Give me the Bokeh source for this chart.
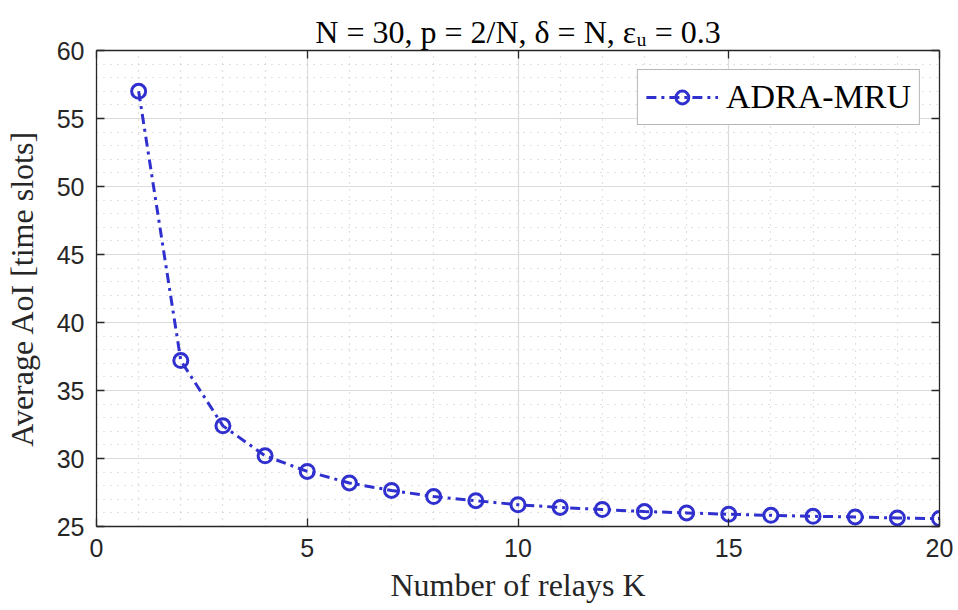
from bokeh.plotting import figure
from bokeh.models import Range1d, LinearAxis, SingleIntervalTicker, CustomJSTickFormatter
from bokeh.embed import file_html
from bokeh.resources import INLINE

# ---------------- data ----------------
relays_K = list(range(1, 21))
avg_aoi = [57.0, 37.2, 32.4, 30.2, 29.05, 28.2, 27.65, 27.2, 26.9, 26.6,
           26.4, 26.25, 26.1, 26.0, 25.9, 25.82, 25.75, 25.7, 25.63, 25.58]
series_label = "ADRA-MRU"
x_tick_interval = 5
y_tick_interval = 5
x_limits = (0, 20)
y_limits = (25, 60)
y_axis_title = "Average AoI [time slots]"
x_axis_title = "Number of relays K"
chart_title = "N = 30, p = 2/N, δ = N, εᵤ = 0.3"

# ---------------- style ----------------
W, H = 958, 610
FL, FR, FT, FB = 96, 939, 50, 526   # frame edges in canvas px
BLUE = "#3030cf"
AX = "#262626"
SERIF = "Liberation Serif"
SANS = "Liberation Sans"

p = figure(width=W, height=H, x_range=Range1d(*x_limits), y_range=Range1d(*y_limits),
           output_backend="svg", toolbar_location=None,
           min_border_left=FL, min_border_right=W - FR,
           min_border_top=FT, min_border_bottom=H - FB)
p.outline_line_color = None
p.background_fill_color = "white"
p.border_fill_color = "white"

p.title.text = chart_title
p.title.align = "center"
p.title.text_font = SERIF
p.title.text_font_style = "normal"
p.title.text_font_size = "32px"
p.title.text_color = "black"
p.title.standoff = 2

xt = SingleIntervalTicker(interval=x_tick_interval, num_minor_ticks=5)
yt = SingleIntervalTicker(interval=y_tick_interval, num_minor_ticks=5)

for ax, tk in ((p.below[0], xt), (p.left[0], yt)):
    ax.ticker = tk
    ax.axis_line_color = AX
    ax.axis_line_width = 1.3
    ax.major_tick_in = 8
    ax.major_tick_out = 0
    ax.major_tick_line_color = AX
    ax.major_tick_line_width = 1.3
    ax.minor_tick_in = 0
    ax.minor_tick_out = 0
    ax.major_label_text_font = SANS
    ax.major_label_text_font_size = "25px"
    ax.major_label_text_color = AX
    ax.axis_label_text_font = SERIF
    ax.axis_label_text_font_style = "normal"
    ax.axis_label_text_font_size = "32px"
    ax.axis_label_text_color = AX

p.below[0].major_label_standoff = 12
p.below[0].axis_label = x_axis_title
p.below[0].axis_label_standoff = 7
p.left[0].major_label_standoff = 12
p.left[0].axis_label = y_axis_title
p.left[0].axis_label_standoff = 14

blank = CustomJSTickFormatter(code="return ''")
for loc, tk in (("right", yt), ("above", xt)):
    a = LinearAxis(ticker=tk, axis_line_color=AX, axis_line_width=1.3,
                   major_tick_in=8, major_tick_out=0, major_tick_line_color=AX,
                   major_tick_line_width=1.3, minor_tick_in=0, minor_tick_out=0,
                   formatter=blank, major_label_text_font_size="6px",
                   major_label_standoff=0)
    p.add_layout(a, loc)

p.xgrid.ticker = xt
p.ygrid.ticker = yt
for g in (p.xgrid, p.ygrid):
    g.grid_line_color = "#dcdcdc"
    g.grid_line_width = 1.2
    g.minor_grid_line_color = "#c4c4c4"
    g.minor_grid_line_width = 1.2
    g.minor_grid_line_dash = "1 6"

# ---------------- series ----------------
p.line(relays_K, avg_aoi, line_color=BLUE, line_width=3, line_dash="10 5 3 5",
       legend_label=series_label)
p.scatter(relays_K, avg_aoi, marker="circle", size=14, fill_color=None,
          line_color=BLUE, line_width=3, legend_label=series_label)

lg = p.legend[0]
lg.location = "top_right"
lg.margin = 19
lg.padding = 8
lg.spacing = 0
lg.label_standoff = 8
lg.glyph_width = 72
lg.glyph_height = 32
lg.label_height = 32
lg.label_text_font = SERIF
lg.label_text_font_size = "34px"
lg.label_text_color = "black"
lg.border_line_color = "#6e6e6e"
lg.border_line_width = 1
lg.background_fill_alpha = 1.0

open("out.html", "w").write(file_html(p, INLINE))
